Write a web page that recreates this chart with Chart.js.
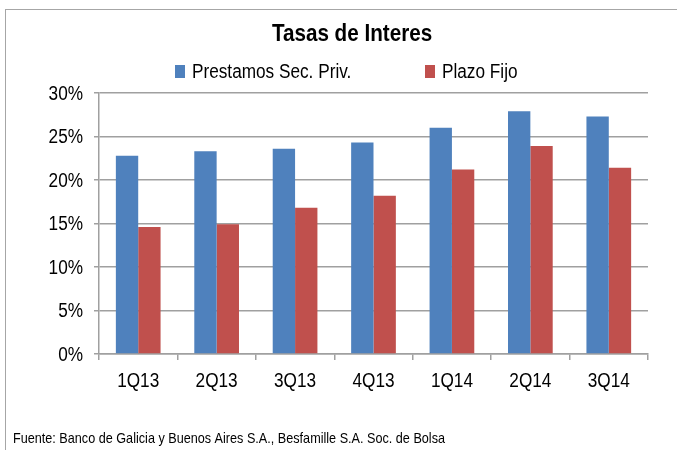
<!DOCTYPE html>
<html>
<head>
<meta charset="utf-8">
<script src="https://cdn.jsdelivr.net/npm/chart.js@4/dist/chart.umd.min.js"></script>
<style>
html,body{margin:0;padding:0;background:#fff;}
#wrap{position:relative;width:677px;height:450px;}
</style>
</head>
<body>
<div id="wrap"><canvas id="c" width="677" height="450"></canvas></div>
<script>
const categories = ['1Q13','2Q13','3Q13','4Q13','1Q14','2Q14','3Q14'];
const prestamos = [22.8, 23.3, 23.6, 24.3, 26.0, 27.9, 27.3];
const plazoFijo = [14.6, 14.9, 16.8, 18.2, 21.2, 23.9, 21.4];
const seriesNames = ['Prestamos Sec. Priv.', 'Plazo Fijo'];
const seriesColors = ['#4F81BD', '#C0504D'];
const yTicks = [0, 5, 10, 15, 20, 25, 30];
const titleText = 'Tasas de Interes';
const sourceText = 'Fuente: Banco de Galicia y Buenos Aires S.A., Besfamille S.A. Soc. de Bolsa';

const FONT = '"Liberation Sans", Arial, sans-serif';
const NARROW_K = 0.86;

function narrowText(ctx, txt, x, y) {
  const w = ctx.measureText(txt).width;
  ctx.fillText(txt, x, y, w * NARROW_K);
}

const decor = {
  id: 'decor',
  beforeDraw(chart) {
    const ctx = chart.ctx;
    ctx.save();
    ctx.fillStyle = '#fff';
    ctx.fillRect(0, 0, chart.width, chart.height);
    ctx.strokeStyle = '#a6a6a6';
    ctx.lineWidth = 1;
    ctx.strokeRect(5.5, 9.5, 700, 460);
    ctx.restore();
  },
  afterDraw(chart) {
    const ctx = chart.ctx;
    ctx.save();
    ctx.fillStyle = '#000';
    // title
    ctx.textBaseline = 'alphabetic';
    ctx.font = 'bold 24px ' + FONT;
    ctx.textAlign = 'center';
    narrowText(ctx, titleText, 352, 41);
    // legend
    ctx.textAlign = 'left';
    ctx.font = '20px ' + FONT;
    const boxX = [175, 425];
    for (let i = 0; i < seriesNames.length; i++) {
      ctx.fillStyle = seriesColors[i];
      ctx.fillRect(boxX[i], 65, 10, 13);
      ctx.fillStyle = '#000';
      narrowText(ctx, seriesNames[i], boxX[i] + 17, 78);
    }
    // tick labels (from the library's scales)
    const xs = chart.scales.x, ys = chart.scales.y;
    ctx.font = '20px ' + FONT;
    ctx.textBaseline = 'middle';
    ctx.textAlign = 'center';
    xs.ticks.forEach((t, i) => {
      narrowText(ctx, String(t.label), xs.getPixelForTick(i), 381);
    });
    ctx.textAlign = 'right';
    ys.ticks.forEach((t, i) => {
      narrowText(ctx, String(t.label), 83, ys.getPixelForTick(i) + 1);
    });
    // source
    ctx.textBaseline = 'alphabetic';
    ctx.textAlign = 'left';
    ctx.font = '15px ' + FONT;
    ctx.fillText(sourceText, 13, 443, 432);
    ctx.restore();
  }
};

new Chart(document.getElementById('c'), {
  type: 'bar',
  data: {
    labels: categories,
    datasets: [
      { label: seriesNames[0], data: prestamos, backgroundColor: seriesColors[0], borderWidth: 0 },
      { label: seriesNames[1], data: plazoFijo, backgroundColor: seriesColors[1], borderWidth: 0 }
    ]
  },
  options: {
    responsive: false,
    animation: false,
    events: [],
    layout: { padding: { left: 0, top: 93, right: 29, bottom: 56 } },
    plugins: { legend: { display: false }, title: { display: false }, tooltip: { enabled: false } },
    datasets: { bar: { categoryPercentage: 0.57, barPercentage: 1.0 } },
    scales: {
      x: {
        grid: { display: true, drawOnChartArea: false, drawTicks: true, tickLength: 6, color: '#a0a0a0', lineWidth: 1.5, offset: true },
        border: { display: true, color: '#a0a0a0', width: 1.5 },
        ticks: { color: 'rgba(0,0,0,0)', font: { family: FONT, size: 20 }, padding: 8, maxRotation: 0 },
        afterFit(s) { s.height = 40; }
      },
      y: {
        min: 0, max: 30,
        afterBuildTicks(s) { s.ticks = yTicks.map(v => ({ value: v })); },
        grid: { color: '#a0a0a0', lineWidth: 1.5, drawTicks: true, tickLength: 5 },
        border: { display: true, color: '#a0a0a0', width: 1.5 },
        ticks: { color: 'rgba(0,0,0,0)', font: { family: FONT, size: 20 }, padding: 11, callback: v => v + '%' },
        afterFit(s) { s.width = 99; }
      }
    }
  },
  plugins: [decor]
});
</script>
</body>
</html>
